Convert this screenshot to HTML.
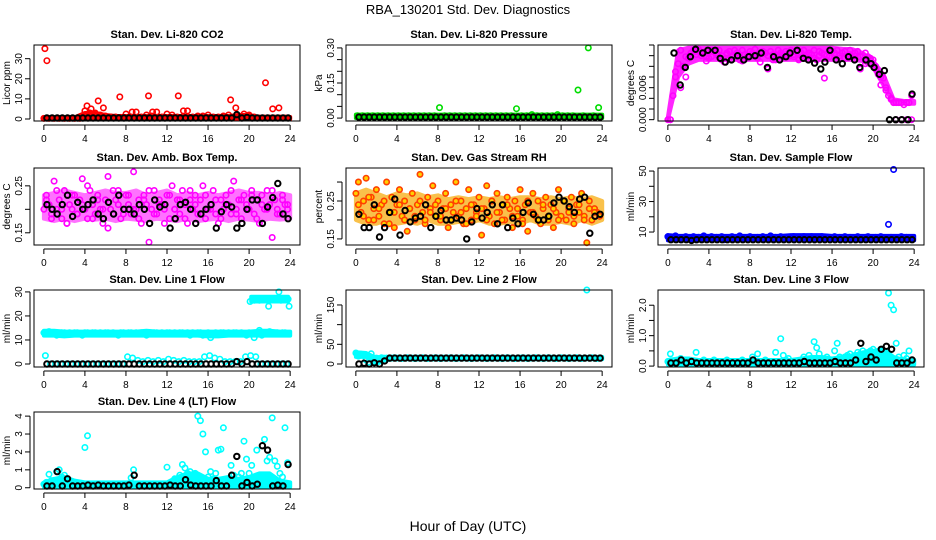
<!DOCTYPE html>
<html><head><meta charset="utf-8"><style>
html,body{margin:0;padding:0;background:#fff;}
svg{display:block;font-family:"Liberation Sans",Arial,sans-serif;}
</style></head><body>
<svg id="chart" width="936" height="540" viewBox="0 0 936 540">
<rect width="936" height="540" fill="#fff"/>
<text x="468" y="14" text-anchor="middle" font-size="13">RBA_130201  Std. Dev. Diagnostics</text>
<text x="468" y="531" text-anchor="middle" font-size="14">Hour of Day (UTC)</text>
</svg>
<script>
// ---- data ----
const xTicks=[0,4,8,12,16,20,24];
// CO2
const co2Red=[0.3,0.3,0.3,0.3,0.3,0.3,0.3,0.3,4,3,3,2,1.5,1,1,0.8,2.5,1,3.5,1,2,1.5,3.5,1,2.5,2,1,1,4,1,1.5,1.5,2,1,1,1.5,2,1,1.5,2.5,2,1,0.5,0.5,0.5,0.5,0.5,0.5];
const co2RedOutT=[0.1,0.3,21.6,22.3,22.9,18.2,18.7,4.2,4.6,5.3,5.8,7.4,10.2,13.1,10.6,13.6,8.6];
const co2RedOutV=[35,29,18,5,5.5,9.5,5.5,6.5,5,9,5.5,11,11.5,11.5,3.5,4,3.5];
const co2Black=[0.5,0.5,0.5,0.5,0.5,0.5,0.5,0.5,0.5,0.5,0.5,0.5,0.5,0.5,0.5,0.5,0.5,0.5,0.5,0.5,0.5,0.5,0.5,0.5,0.5,0.5,0.5,0.5,0.5,0.5,0.5,0.5,0.5,0.5,0.5,0.5,0.5,2.2,0.5,0.8,0.5,0.5,0.5,0.5,0.5,0.5,0.5,0.5];
const co2BandLo=[0,0,0,0,0,0,0,0,0,0,0,0,0,0,0,0,0,0,0,0,0,0,0,0,0];
const co2BandHi=[0.8,0.8,0.8,0.8,3,3,2,1.5,1.5,1.5,1.5,1.5,1.5,1.5,1.5,1.5,1.5,1.5,1.5,2,2,1,1,1,1];
// Pressure
const presGreen=[0.01,0.01,0.01,0.01,0.01,0.01,0.01,0.01,0.01,0.01,0.01,0.01,0.01,0.01,0.01,0.01,0.045,0.01,0.01,0.01,0.01,0.01,0.01,0.01,0.01,0.01,0.01,0.01,0.01,0.01,0.01,0.04,0.01,0.01,0.015,0.01,0.01,0.01,0.01,0.015,0.01,0.01,0.01,0.12,0.01,0.3,0.01,0.045];
const presBlack=[0.004,0.004,0.004,0.004,0.004,0.004,0.004,0.004,0.004,0.004,0.004,0.004,0.004,0.004,0.004,0.004,0.004,0.004,0.004,0.004,0.004,0.004,0.004,0.004,0.004,0.004,0.004,0.004,0.004,0.004,0.004,0.004,0.004,0.004,0.004,0.004,0.004,0.004,0.004,0.004,0.004,0.004,0.004,0.004,0.004,0.004,0.004,0.004];
const presBandLo=[0,0,0,0,0,0,0,0,0,0,0,0,0,0,0,0,0,0,0,0,0,0,0,0,0];
const presBandHi=[0.015,0.015,0.015,0.015,0.015,0.015,0.015,0.015,0.015,0.015,0.015,0.015,0.015,0.015,0.015,0.015,0.015,0.015,0.015,0.015,0.015,0.015,0.015,0.015,0.015];
// Li-820 temp
const tempMag=[0,0,0.0045,0.009,0.0105,0.013,0.010,0.008,0.0115,0.0125,0.013,0.0128,0.0132,0.012,0.0125,0.0118,0.0115,0.013,0.0128,0.0122,0.013,0.012,0.0108,0.0125,0.0128,0.0118,0.013,0.0125,0.0112,0.013,0.0122,0.0118,0.0128,0.0125,0.0132,0.012,0.0108,0.0128,0.0125,0.0095,0.0128,0.0122,0.0112,0.013,0.0125,0.012,0.0128,0.0118,0.013,0.0122,0.0128,0.0115,0.0125,0.013,0.0118,0.0125,0.0122,0.013,0.0112,0.0128,0.0125,0.0078,0.012,0.013,0.0128,0.0122,0.013,0.0115,0.0125,0.0128,0.012,0.013,0.0118,0.0125,0.0128,0.0095,0.012,0.0125,0.0118,0.0115,0.0112,0.0095,0.0085,0.0065,0.0078,0.0055,0.0045,0.0038,0.0032,0.0032,0.0032,0.0032,0.0028,0.0032,0.0032,0.0045];
const tempMag2=[0,0.008,0.006,0.0118,0.012,0.0122,0.0125,0.011,0.0118,0.0125,0.0112,0.0122,0.0118,0.0125,0.011,0.012,0.0122,0.0115,0.0125,0.012,0.0112,0.0118,0.0122,0.0125,0.0118,0.0112,0.012,0.0122,0.0115,0.012,0.0122,0.0118,0.0125,0.012,0.0115,0.0122,0.012,0.0118,0.0105,0.0112,0.01,0.008,0.006,0.004,0,0,0,0];
const tempBlackT=[0.6,1.2,1.7,2.2,2.7,3.4,3.9,4.6,5.1,5.6,6.2,6.8,7.4,7.9,8.5,9.1,9.7,10.3,10.9,11.5,11.9,12.6,13.2,13.7,14.3,14.9,15.3,15.8,16.4,17,17.6,18.2,18.7,19.3,19.8,20.1,20.6,21.1,21.6,22.2,22.8,23.4,23.8];
const tempBlackV=[0.0125,0.0065,0.0098,0.0118,0.0132,0.0125,0.013,0.013,0.0115,0.0108,0.0112,0.012,0.0112,0.0118,0.012,0.0125,0.0098,0.0118,0.0112,0.0118,0.0125,0.013,0.0115,0.0112,0.0106,0.0095,0.0108,0.013,0.0112,0.0105,0.0118,0.0112,0.0098,0.0112,0.0105,0.0098,0.0085,0.0092,0,0,0,0,0.0048];
const tempBandLo=[0,0.008,0.0105,0.0112,0.0112,0.0112,0.0112,0.0112,0.0112,0.0112,0.0112,0.0112,0.0112,0.0112,0.0112,0.0112,0.0112,0.0112,0.0112,0.011,0.0098,0.0065,0.003,0.003,0.003];
const tempBandHi=[0.0005,0.013,0.0135,0.0135,0.0135,0.0135,0.0135,0.0135,0.0135,0.0135,0.0135,0.0135,0.0135,0.0135,0.0135,0.0135,0.0135,0.0133,0.0132,0.0125,0.011,0.0085,0.0038,0.0035,0.0035];
// Amb box temp
const ambMag=[0.2,0.23,0.21,0.19,0.26,0.2,0.22,0.18,0.24,0.17,0.21,0.2,0.23,0.19,0.22,0.265,0.2,0.18,0.24,0.21,0.19,0.23,0.2,0.17,0.22,0.27,0.2,0.19,0.22,0.24,0.18,0.2,0.23,0.21,0.19,0.28,0.2,0.22,0.17,0.23,0.21,0.13,0.2,0.24,0.19,0.22,0.21,0.2,0.23,0.18,0.25,0.2,0.22,0.19,0.24,0.21,0.17,0.22,0.2,0.23,0.19,0.22,0.25,0.18,0.2,0.21,0.24,0.19,0.17,0.22,0.2,0.23,0.21,0.19,0.26,0.2,0.22,0.18,0.23,0.21,0.2,0.24,0.19,0.22,0.17,0.23,0.2,0.24,0.21,0.14,0.22,0.2,0.19,0.23,0.21,0.2];
const ambMag2=[0.22,0.18,0.24,0.2,0.17,0.23,0.19,0.21,0.25,0.18,0.22,0.2,0.16,0.24,0.21,0.19,0.23,0.2,0.18,0.22,0.24,0.19,0.21,0.17,0.23,0.2,0.22,0.18,0.24,0.21,0.19,0.23,0.2,0.22,0.18,0.21,0.24,0.19,0.22,0.2,0.23,0.18,0.21,0.2,0.24,0.19,0.22,0.21];
const ambBlack=[0.21,0.2,0.19,0.21,0.23,0.185,0.215,0.2,0.21,0.22,0.19,0.18,0.215,0.19,0.23,0.2,0.2,0.19,0.21,0.2,0.17,0.22,0.205,0.21,0.16,0.18,0.21,0.215,0.2,0.17,0.19,0.2,0.21,0.16,0.195,0.21,0.205,0.16,0.17,0.2,0.22,0.22,0.17,0.205,0.225,0.255,0.19,0.18];
const ambBandLo=[0.18,0.175,0.18,0.175,0.18,0.178,0.18,0.175,0.18,0.178,0.175,0.18,0.178,0.175,0.18,0.175,0.178,0.18,0.175,0.18,0.178,0.175,0.18,0.178,0.18];
const ambBandHi=[0.23,0.235,0.24,0.235,0.23,0.235,0.24,0.235,0.235,0.24,0.23,0.235,0.24,0.23,0.235,0.23,0.235,0.23,0.235,0.24,0.235,0.235,0.23,0.235,0.23];
// Gas RH
const rhOr=[0.27,0.3,0.22,0.25,0.31,0.2,0.26,0.23,0.28,0.21,0.24,0.19,0.3,0.22,0.26,0.18,0.24,0.28,0.21,0.25,0.17,0.23,0.27,0.2,0.24,0.32,0.22,0.19,0.26,0.23,0.29,0.21,0.25,0.2,0.23,0.27,0.18,0.24,0.22,0.3,0.21,0.25,0.19,0.23,0.28,0.2,0.24,0.22,0.26,0.16,0.23,0.29,0.21,0.25,0.19,0.27,0.22,0.24,0.2,0.26,0.23,0.18,0.25,0.21,0.28,0.2,0.24,0.17,0.22,0.27,0.21,0.25,0.19,0.23,0.26,0.2,0.24,0.18,0.22,0.28,0.21,0.25,0.2,0.23,0.26,0.19,0.24,0.22,0.27,0.21,0.14,0.25,0.2,0.23,0.22,0.21];
const rhOr2=[0.24,0.21,0.26,0.2,0.23,0.25,0.19,0.22,0.24,0.2,0.23,0.21,0.25,0.2,0.22,0.24,0.21,0.23,0.2,0.25,0.22,0.19,0.24,0.21,0.23,0.2,0.25,0.22,0.2,0.24,0.21,0.23,0.19,0.25,0.22,0.2,0.24,0.21,0.23,0.2,0.25,0.22,0.21,0.24,0.2,0.23,0.22,0.21];
const rhBlack=[0.215,0.18,0.18,0.24,0.155,0.18,0.22,0.255,0.16,0.225,0.195,0.205,0.21,0.24,0.18,0.21,0.225,0.2,0.2,0.205,0.2,0.15,0.195,0.23,0.205,0.22,0.24,0.19,0.24,0.18,0.205,0.19,0.22,0.245,0.215,0.2,0.2,0.21,0.245,0.26,0.25,0.235,0.22,0.255,0.26,0.165,0.21,0.215];
const rhBandLo=[0.2,0.19,0.19,0.2,0.19,0.195,0.19,0.2,0.19,0.19,0.195,0.19,0.2,0.19,0.19,0.195,0.19,0.2,0.19,0.19,0.195,0.19,0.2,0.19,0.2];
const rhBandHi=[0.27,0.28,0.27,0.26,0.27,0.265,0.27,0.26,0.265,0.255,0.26,0.255,0.26,0.255,0.26,0.255,0.26,0.26,0.255,0.26,0.255,0.26,0.255,0.26,0.25];
// Sample flow
const sfBlue=[7,6,5.5,7.5,6,5,6.5,7,5.5,6,7,5,6.5,6,7.5,5.5,6,7,5.5,6.5,6,7,5,6,6.5,7,5.5,6,7.5,6,5.5,6.5,7,6,5.5,6.5,6,7,5.5,6,7.5,6,6.5,5.5,7,6,6.5,5.5,6,7,6,5.5,6.5,7,6,5.5,7,6.5,6,5.5,7,6,6.5,5.5,6,7,6,6.5,5.5,7,6,6.5,5.5,6,7,6,5.5,6.5,7,6,5.5,6.5,6,7,5.5,6,15,6.5,51,6,5.5,7,6,6.5,5.5,6];
const sfBlack=[5,5,5,5,4.5,5,5,5,5,5,5,5,5,5,5,5,5,5,5,5,5,5,5,5,5,5,5,5,5,5,5,5,5,5,5,5,5,5,5,5,5,5,5,5,5,5,5,5];
const sfBandLo=[4.5,4.5,4.5,4.5,4.5,4.5,4.5,4.5,4.5,4.5,4.5,4.5,4.5,4.5,4.5,4.5,4.5,4.5,4.5,4.5,4.5,4.5,4.5,4.5,4.5];
const sfBandHi=[8,7.5,7.5,7.5,7.5,7.5,7.5,7.5,7.5,7.5,7.5,7.5,8,8,8,8,7.5,7.5,7.5,7.5,7.5,7.5,7.5,7.5,7.5];
// Line 1 flow
const l1Cyan=[13,13,13.5,13,12.5,12,12.5,13,13,12.5,13,12.5,13,13,12.5,12,13,13,12.5,13,13,12.5,13,12.5,13,13,12.5,13,12.5,12,13,13,12.5,13,13,12.5,13,12.5,13,13,12,13,12.5,13,13,12.5,13,12.5,13,13,12.5,13,12.5,13,13,12.5,13,12,13,12.5,13,13,12,12.5,13,11,12.5,13,12.5,13,13,12.5,13,12.5,13,13,12.5,13,12.5,12,13,12.5,11,12.5,14,12,13,12.5,13.5,13,12.5,13,12.5,13,13,12.5];
const l1Upper=[26,27,27,26.5,27,27,26.5,27,24,27,27,26.5,27,30,27,27,26.5,27,24];
const l1UpperT=[20.1,20.4,20.7,21,21.3,21.6,21.9,22.2,21.9,22.5,22.8,23.1,23.4,22.9,23.6,23.8,20.5,21.4,23.9];
const l1Low=[3.5,0,0,0,0,0,0,0,0,0,0,0,0,0,0,0,3,2.5,1.5,1,1.5,1,1.5,1,2,1.5,1,1.5,1,1,1,3,3.5,2.5,2,1,1,1,1,3,3.5,3,0,0,0,0,0,0];
const l1Black=[0,0,0,0,0,0,0,0,0,0,0,0,0,0,0,0,0,0,0,0,0,0,0,0,0,0,0,0,0,0,0,0,0,0,0,0,0,1,0,1,0,0,0,0,0,0,0,0];
const l1BandLo=[11.8,11.8,11.5,11.8,11.8,11.8,11.8,11.8,11.8,11.8,11.8,11.8,11.8,11.8,11.8,11.8,11.5,11.5,11.8,11.8,11.8,11.8,11.8,11.8,11.8];
const l1BandHi=[13.8,13.8,13.5,13.5,13.5,13.5,13.5,13.5,13.5,13.5,13.8,13.5,13.5,13.5,13.5,13.5,13.5,13.5,13.5,13.5,13.5,13.8,13.8,13.5,13.5];
const l1UpBandT=[20.2,21.1,22,22.9,23.8];
const l1UpBandLo=[26,26,26,26,26];
const l1UpBandHi=[28,28,28,28,28];
// Line 2 flow
const l2Cyan=[28,20,25,22,10,5,26,15,15,14,16,15,15,14,15,16,15,15,14,15,16,15,15,14,15,15,16,15,14,15,15,16,15,14,15,15,15,16,15,14,15,15,16,15,15,14,15,15,16,15,15,14,15,15,16,15,15,14,15,16,15,15,14,15,15,16,15,14,15,15,16,15,15,14,15,16,15,15,14,15,16,15,15,14,15,15,16,15,14,15,188,15,16,15,14,15];
const l2Black=[0,2,0,3,0,8,15,15,15,15,15,15,15,15,15,15,15,15,15,15,15,15,15,15,15,15,15,15,15,15,15,15,15,15,15,15,15,15,15,15,15,15,15,15,15,15,15,15];
const l2BandLo=[18,18,0,12,12,12,12,12,12,12,12,12,12,12,12,12,12,12,12,12,12,12,12,12,12];
const l2BandHi=[30,28,15,18,18,18,18,18,18,18,18,18,18,18,18,18,18,18,18,18,18,18,18,18,18];
// Line 3 flow
const l3Cyan=[0.15,0.4,0.1,0.15,0.2,0.25,0.1,0.15,0.2,0.1,0.15,0.45,0.15,0.1,0.2,0.15,0.1,0.15,0.2,0.1,0.15,0.1,0.15,0.2,0.1,0.15,0.1,0.15,0.1,0.2,0.15,0.1,0.15,0.3,0.1,0.4,0.15,0.1,0.2,0.1,0.15,0.1,0.45,0.15,0.9,0.35,0.2,0.25,0.15,0.1,0.15,0.1,0.2,0.3,0.2,0.35,0.15,0.8,0.6,0.4,0.25,0.15,0.3,0.2,0.15,0.5,0.75,0.3,0.25,0.3,0.35,0.4,0.3,0.35,0.45,0.4,0.5,0.35,0.45,0.5,0.55,0.4,0.3,0.55,0.5,0.45,2.4,2.0,1.85,0.75,0.3,0.2,0.35,0.25,0.5,0.15];
const l3Black=[0.1,0.1,0.2,0.1,0.15,0.1,0.1,0.1,0.1,0.1,0.1,0.1,0.1,0.1,0.1,0.1,0.2,0.1,0.1,0.1,0.1,0.1,0.1,0.1,0.1,0.1,0.15,0.1,0.1,0.1,0.1,0.1,0.15,0.1,0.1,0.1,0.2,0.75,0.15,0.3,0.2,0.55,0.65,0.55,0.1,0.1,0.1,0.2];
const l3BandLo=[0.05,0.05,0.05,0.05,0.05,0.05,0.05,0.05,0.05,0.05,0.05,0.05,0.05,0.05,0.05,0.05,0.05,0.05,0.05,0.05,0.05,0.05,0.05,0.05,0.05];
const l3BandHi=[0.2,0.25,0.25,0.2,0.2,0.2,0.2,0.2,0.2,0.2,0.2,0.2,0.2,0.25,0.3,0.3,0.25,0.3,0.35,0.45,0.5,0.55,0.3,0.2,0.2];
// Line 4 flow
const l4Cyan=[0.2,0.3,0.75,0.4,0.3,0.9,1.0,0.6,0.7,0.3,0.2,0.3,0.2,0.2,0.2,0.2,2.25,2.9,0.2,0.2,0.2,0.2,0.2,0.2,0.2,0.2,0.2,0.2,0.2,0.2,0.2,0.2,0.2,0.2,0.55,1.0,0.2,0.2,0.2,0.2,0.2,0.2,0.2,0.2,0.2,0.2,0.2,0.2,1.15,0.2,0.2,0.5,0.3,0.7,1.3,1.1,0.8,0.9,0.6,0.8,4.0,3.75,3.0,2.0,0.6,0.9,0.5,0.8,2.1,2.15,3.35,0.4,0.5,1.25,0.7,0.4,0.6,0.8,2.6,1.6,0.8,1.25,0.6,2.1,0.5,0.4,2.7,1.5,1.7,3.9,1.5,1.2,0.8,0.6,3.35,1.4];
const l4Black=[0.1,0.1,0.9,0.1,0.5,0.1,0.1,0.1,0.15,0.1,0.15,0.1,0.1,0.1,0.1,0.1,0.15,0.7,0.1,0.1,0.1,0.1,0.1,0.1,0.15,0.1,0.1,0.45,0.15,0.1,0.1,0.1,0.1,0.4,0.1,0.1,0.7,1.75,0.1,0.3,0.1,0.2,2.35,2.1,0.1,0.15,0.1,1.3];
const l4BandLo=[0.05,0.05,0.05,0.05,0.05,0.05,0.05,0.05,0.05,0.05,0.05,0.05,0.05,0.05,0.05,0.05,0.05,0.05,0.05,0.05,0.05,0.05,0.05,0.05,0.05];
const l4BandHi=[0.3,0.5,0.6,0.4,0.3,0.3,0.3,0.3,0.3,0.3,0.3,0.3,0.3,0.6,0.8,0.8,0.5,0.5,0.6,0.5,0.6,0.8,0.8,0.4,0.3];

// ---- layout ----
const cols=[[34,300],[346,612],[658,924]];
const rows=[[45,121],[168,245],[290,367],[412,489]];
const NS='http://www.w3.org/2000/svg';
const svg=document.getElementById('chart');
function mk(tag,attrs,parent){const e=document.createElementNS(NS,tag);for(const k in attrs)e.setAttribute(k,attrs[k]);(parent||svg).appendChild(e);return e;}
function grid(n,off){const a=[];for(let i=0;i<n;i++)a.push((i+off)*24/n);return a;}
function bandGrid(n){const a=[];for(let i=0;i<n;i++)a.push(i*24/(n-1));return a;}

function panel(key,c,r,title,ylab,ylim,yticks,ylabels,series,bands,tickFont){
  const [x0,x1]=cols[c],[y0,y1]=rows[r];
  const g=mk('g',{});
  
  
  const xs=t=>x0+9.85+t*(x1-x0-19.7)/24;
  const ys=v=>y1-(v-ylim[0])/(ylim[1]-ylim[0])*(y1-y0);
  (bands||[]).forEach(b=>{
    const t=b.t||bandGrid(b.lo.length);
    const pts=[];
    b.hi.forEach((v,i)=>pts.push(xs(t[i]).toFixed(1)+','+ys(v).toFixed(1)));
    for(let i=b.lo.length-1;i>=0;i--)pts.push(xs(t[i]).toFixed(1)+','+ys(b.lo[i]).toFixed(1));
    const p=mk('polygon',{points:pts.join(' '),fill:b.col,stroke:b.col,'stroke-width':4,'stroke-linejoin':'round',opacity:b.op||1},g);
    
    
  });
  series.forEach(s=>{
    const sg=mk('g',{},g);
    
    
    const t=s.t||grid(s.v.length,s.off||0);
    s.v.forEach((v,i)=>{
      const cc=mk('circle',{cx:xs(t[i]).toFixed(1),cy:ys(v).toFixed(1),r:2.7,fill:s.fill||'none',stroke:s.col,'stroke-width':s.col==='#000000'?2:1.6},sg);
      
      
    });
  });
  const box=mk('rect',{x:x0,y:y0,width:x1-x0,height:y1-y0,fill:'none',stroke:'#000','stroke-width':1},g);
  
  
  const tt=mk('text',{x:(x0+x1)/2,y:y0-7,'text-anchor':'middle','font-size':11,'font-weight':'bold'},g);
  tt.textContent=title;
  
  
  const xa=mk('g',{},g);
  
  
  mk('line',{x1:xs(0),x2:xs(24),y1:y1+4,y2:y1+4,stroke:'#000'},xa);
  xTicks.forEach(v=>{
    mk('line',{x1:xs(v),x2:xs(v),y1:y1+4,y2:y1+9,stroke:'#000'},xa);
    const l=mk('text',{x:xs(v),y:y1+21,'text-anchor':'middle','font-size':10},xa);
    l.textContent=v;
    
    
  });
  const ya=mk('g',{},g);
  
  
  mk('line',{x1:x0-4,x2:x0-4,y1:ys(yticks[0]),y2:ys(yticks[yticks.length-1]),stroke:'#000'},ya);
  yticks.forEach((v,i)=>{
    mk('line',{x1:x0-9,x2:x0-4,y1:ys(v),y2:ys(v),stroke:'#000'},ya);
    if(ylabels[i]){
      const px=x0-12,py=ys(v);
      const l=mk('text',{x:px,y:py,'text-anchor':'middle','font-size':tickFont||10,transform:'rotate(-90 '+px+' '+py+')'},ya);
      l.textContent=ylabels[i];
      
      
    }
  });
  const ly=(y0+y1)/2,lx=x0-24;
  const yl=mk('text',{x:lx,y:ly,'text-anchor':'middle','font-size':10,transform:'rotate(-90 '+lx+' '+ly+')'},g);
  yl.textContent=ylab;
  
  
}
const R='#ff0000',K='#000000',G='#00dd00',M='#ff00ff',B='#0000ff',C='#00ffff';
panel('co2',0,0,'Stan. Dev. Li-820 CO2','Licor ppm',[-1,36.8],[0,10,20,30],['0','10','20','30'],[
 {name:'red',v:co2Red,col:R},{name:'red-outliers',t:co2RedOutT,v:co2RedOutV,col:R},{name:'black',v:co2Black,col:K,off:0.6}],
 [{lo:co2BandLo,hi:co2BandHi,col:R}]);
panel('pressure',1,0,'Stan. Dev. Li-820 Pressure','kPa',[-0.0125,0.3125],[0,0.05,0.1,0.15,0.2,0.25,0.3],['0.00','','','0.15','','','0.30'],[
 {name:'green',v:presGreen,col:G,off:0.3},{name:'black',v:presBlack,col:K,off:0.6}],
 [{lo:presBandLo,hi:presBandHi,col:G}]);
panel('temp',2,0,'Stan. Dev. Li-820 Temp.','degrees C',[-0.00025,0.014],[0,0.002,0.004,0.006,0.008,0.01,0.012,0.014],['0.000','','','0.006','','','',''],[
 {name:'magenta',v:tempMag,col:M},{name:'magenta-2',v:tempMag2,col:M,off:0.5},{name:'black',t:tempBlackT,v:tempBlackV,col:K}],
 [{lo:tempBandLo,hi:tempBandHi,col:M,op:0.85}]);
panel('amb',0,1,'Stan. Dev. Amb. Box Temp.','degrees C',[0.124,0.288],[0.15,0.2,0.25],['0.15','','0.25'],[
 {name:'magenta',v:ambMag,col:M},{name:'magenta-2',v:ambMag2,col:M,off:0.5},{name:'black',v:ambBlack,col:K,off:0.6}],
 [{lo:ambBandLo,hi:ambBandHi,col:M,op:0.55}]);
panel('rh',1,1,'Stan. Dev. Gas Stream RH','percent',[0.134,0.337],[0.15,0.2,0.25,0.3],['0.15','','0.25',''],[
 {name:'orange',v:rhOr,col:'#ff4000',fill:'#ffd000'},{name:'orange-2',v:rhOr2,col:'#ff4000',fill:'#ffd000',off:0.5},{name:'black',v:rhBlack,col:K,off:0.6}],
 [{lo:rhBandLo,hi:rhBandHi,col:'#f7a800',op:0.7}]);
panel('sample',2,1,'Stan. Dev. Sample Flow','ml/min',[1.5,52],[10,20,30,40,50],['10','','30','','50'],[
 {name:'blue',v:sfBlue,col:B},{name:'black',v:sfBlack,col:K,off:0.6}],
 [{lo:sfBandLo,hi:sfBandHi,col:B}]);
panel('line1',0,2,'Stan. Dev. Line 1 Flow','ml/min',[-1.25,30.8],[0,10,20,30],['0','10','20','30'],[
 {name:'cyan',v:l1Cyan,col:C},{name:'cyan-upper',v:l1Upper,col:C,t:l1UpperT},{name:'cyan-low',v:l1Low,col:C,off:0.3},{name:'black',v:l1Black,col:K,off:0.6}],
 [{lo:l1BandLo,hi:l1BandHi,col:C},{lo:l1UpBandLo,hi:l1UpBandHi,t:l1UpBandT,col:C}]);
panel('line2',1,2,'Stan. Dev. Line 2 Flow','ml/min',[-7.6,188],[0,50,100,150],['0','50','','150'],[
 {name:'cyan',v:l2Cyan,col:C},{name:'black',v:l2Black,col:K,off:0.6}],
 [{lo:l2BandLo,hi:l2BandHi,col:C}]);
panel('line3',2,2,'Stan. Dev. Line 3 Flow','ml/min',[-0.03,2.5],[0,0.5,1,1.5,2],['0.0','','1.0','','2.0'],[
 {name:'cyan',v:l3Cyan,col:C},{name:'black',v:l3Black,col:K,off:0.6}],
 [{lo:l3BandLo,hi:l3BandHi,col:C}]);
panel('line4',0,3,'Stan. Dev. Line 4 (LT) Flow','ml/min',[-0.07,4.23],[0,1,2,3,4],['0','1','2','3','4'],[
 {name:'cyan',v:l4Cyan,col:C},{name:'black',v:l4Black,col:K,off:0.6}],
 [{lo:l4BandLo,hi:l4BandHi,col:C}]);
</script>
</body></html>
